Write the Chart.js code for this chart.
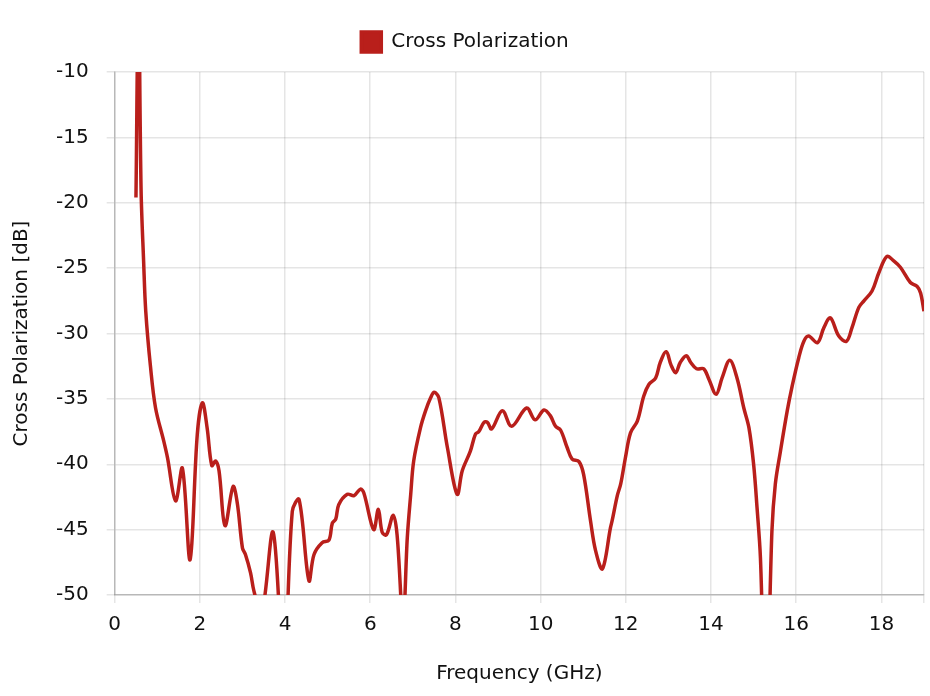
<!DOCTYPE html>
<html><head><meta charset="utf-8">
<script src="https://cdn.jsdelivr.net/npm/chart.js@4"></script>
<style>html,body{margin:0;padding:0;background:#fff}#wrap{width:930px;height:696px}</style>
</head><body><div id="wrap"><canvas id="c" width="930" height="696"></canvas></div>
<script>
const seriesName = "Cross Polarization";
const xTitle = "Frequency (GHz)";
const yTitle = "Cross Polarization [dB]";
const freqGHz = [0.5,0.56,0.62,0.68,0.73,0.84,0.96,1.15,1.24,1.43,1.59,1.77,1.94,2.06,2.17,2.28,2.37,2.45,2.59,2.78,2.88,3.0,3.07,3.19,3.27,3.45,3.72,3.97,4.17,4.33,4.56,4.68,4.87,5.03,5.11,5.19,5.26,5.46,5.62,5.77,5.85,6.08,6.19,6.28,6.38,6.54,6.63,6.77,6.87,6.95,7.02,7.18,7.3,7.42,7.5,7.61,7.81,8.04,8.16,8.35,8.47,8.55,8.67,8.75,8.85,9.1,9.32,9.67,9.87,10.08,10.23,10.35,10.47,10.62,10.74,10.9,11.01,11.17,11.29,11.45,11.64,11.68,11.8,11.88,11.99,12.11,12.27,12.42,12.54,12.7,12.81,12.95,13.06,13.17,13.28,13.42,13.52,13.66,13.83,13.95,14.12,14.26,14.44,14.61,14.77,14.89,15.0,15.08,15.16,15.29,15.43,15.51,15.63,15.79,15.9,16.06,16.18,16.29,16.5,16.65,16.8,17.0,17.18,17.31,17.47,17.59,17.78,17.94,18.13,18.29,18.45,18.68,18.84,18.92,19.0];
const crossPolDb = [-19.6,-4,-19,-24.5,-28.3,-32.5,-35.7,-38.2,-39.5,-42.8,-40.3,-47.3,-37.7,-35.3,-37.2,-40.1,-39.75,-40.5,-44.7,-41.7,-43,-46.4,-46.9,-48.3,-49.7,-51.5,-45.2,-56,-43.6,-42.7,-48.9,-46.9,-46.0,-45.8,-44.5,-44.2,-43.1,-42.3,-42.4,-41.9,-42.2,-45.0,-43.45,-45.2,-45.4,-43.9,-45.4,-52,-45.6,-42.3,-39.75,-37.2,-35.9,-34.9,-34.5,-34.9,-38.7,-42.3,-40.5,-39.0,-37.7,-37.5,-36.8,-36.8,-37.3,-35.9,-37.1,-35.7,-36.6,-35.85,-36.3,-37.1,-37.4,-38.7,-39.6,-39.8,-40.8,-44.3,-46.6,-48.0,-44.85,-44.3,-42.4,-41.5,-39.5,-37.6,-36.7,-34.8,-33.9,-33.4,-32.2,-31.4,-32.4,-33.0,-32.2,-31.7,-32.2,-32.7,-32.7,-33.5,-34.65,-33.4,-32.05,-33.4,-35.7,-37.2,-40.0,-43.3,-47.15,-60,-45.1,-41.5,-39.0,-35.9,-34.1,-31.85,-30.6,-30.2,-30.7,-29.55,-28.8,-30.2,-30.6,-29.55,-28.0,-27.5,-26.75,-25.35,-24.1,-24.45,-24.95,-26.1,-26.4,-26.9,-28.3];
const xTicks = [0,2,4,6,8,10,12,14,16,18];
const yMin = -50, yMax = -10, xMin = 0, xMax = 19;

const red = "#b91f1b";
const font = "'DejaVu Sans', sans-serif";
Chart.defaults.font.family = font;
Chart.defaults.color = "#111";
const legendSpacer = {
  id: 'legendSpacer',
  beforeInit(chart) {
    const orig = chart.legend.fit;
    chart.legend.fit = function () { orig.call(this); this.height += 10; };
  }
};
new Chart(document.getElementById('c'), {
  type: 'line',
  data: { datasets: [{
    label: seriesName,
    data: freqGHz.map((f,i)=>({x:f,y:crossPolDb[i]})),
    borderColor: red, backgroundColor: red, borderWidth: 3.5,
    pointRadius: 0, tension: 0.35, fill: false
  }]},
  options: {
    responsive: false, animation: false,
    layout: { padding: { left: 6, right: 6, top: 15, bottom: 6 } },
    plugins: {
      legend: { labels: { boxWidth: 20, boxHeight: 20, font: { size: 20 }, color: '#111', padding: 17 } },
      tooltip: { enabled: false }
    },
    scales: {
      x: { type: 'linear', min: xMin, max: xMax,
        afterFit(scale) { scale.paddingRight = 0; },
        ticks: { stepSize: 2, font: { size: 20 }, color: '#111', maxRotation: 0, padding: 10,
          callback: v => xTicks.includes(v) ? String(v) : '' },
        grid: { color: 'rgba(0,0,0,0.1)', lineWidth: 1.5 },
        border: { color: 'rgba(0,0,0,0.2)', width: 1.5 },
        title: { display: true, text: xTitle, font: { size: 20 }, color: '#111', padding: { top: 15 } } },
      y: { min: yMin, max: yMax,
        ticks: { stepSize: 5, font: { size: 20 }, color: '#111', padding: 18 },
        grid: { color: 'rgba(0,0,0,0.1)', lineWidth: 1.5 },
        border: { color: 'rgba(0,0,0,0.2)', width: 1.5 },
        title: { display: true, text: yTitle, font: { size: 20 }, color: '#111' } }
    }
  },
  plugins: [legendSpacer]
});
</script></body></html>
